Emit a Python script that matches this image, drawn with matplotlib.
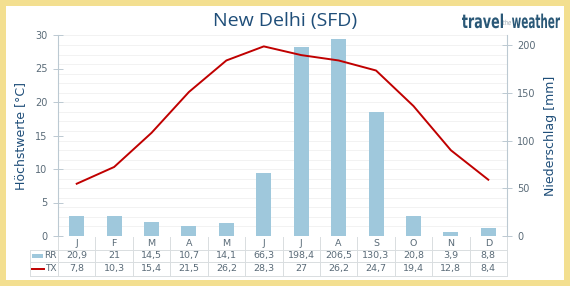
import matplotlib.pyplot as plt
import matplotlib.transforms as mtransforms
from matplotlib.patches import Rectangle, PathPatch
from matplotlib.lines import Line2D
from matplotlib.textpath import TextPath
from matplotlib.font_manager import FontProperties
import numpy as np

months = ['J', 'F', 'M', 'A', 'M', 'J', 'J', 'A', 'S', 'O', 'N', 'D']
rr = [20.9, 21, 14.5, 10.7, 14.1, 66.3, 198.4, 206.5, 130.3, 20.8, 3.9, 8.8]
tx = [7.8, 10.3, 15.4, 21.5, 26.2, 28.3, 27, 26.2, 24.7, 19.4, 12.8, 8.4]

W, H = 570, 286
navy = '#1f4e79'
tickc = '#5a6b78'
gridc = '#bcc9d2'
barc = '#9fc8dc'
redc = '#c00000'

fig = plt.figure(figsize=(W / 100, H / 100), dpi=100)
fig.patch.set_facecolor('#f3df90')
fig.add_artist(Rectangle((6 / W, 6 / H), 1 - 12 / W, 1 - 12 / H, transform=fig.transFigure,
                         facecolor='white', edgecolor='none', zorder=0))

# plot area in pixels
x0, x1, y0, y1 = 58, 507, 236, 35
ax2 = fig.add_axes([x0 / W, 1 - y0 / H, (x1 - x0) / W, (y0 - y1) / H])
ax = ax2.twinx()
ax2.yaxis.tick_right()
ax2.yaxis.set_label_position('right')
ax.yaxis.tick_left()
ax.yaxis.set_label_position('left')

x = np.arange(12)
ax2.bar(x, rr, width=0.4, color=barc, zorder=2)
ax2.set_ylim(0, 210.5)
ax2.set_yticks([0, 50, 100, 150, 200])
for g in range(10, 211, 10):
    ax2.axhline(g, color='#f0f0f0', lw=0.6, zorder=0)
ax2.set_xlim(-0.5, 11.5)
ax2.set_xticks([])

ax.plot(x, tx, color=redc, lw=1.4, zorder=3)
ax.set_ylim(0, 30)
ax.set_yticks([0, 5, 10, 15, 20, 25, 30])
ax.set_xlim(-0.5, 11.5)

for a in (ax, ax2):
    for s in a.spines.values():
        s.set_visible(False)
    a.tick_params(axis='y', colors=tickc, labelsize=7, length=7, width=0.7,
                  direction='inout', pad=4)
ax.spines['left'].set_visible(True)
ax.spines['left'].set_color(gridc)
ax2.spines['right'].set_visible(True)
ax2.spines['right'].set_color(gridc)
ax.tick_params(axis='y', colors=gridc, labelcolor=tickc)
ax2.tick_params(axis='y', colors=gridc, labelcolor=tickc)

ax.set_ylabel('Höchstwerte [°C]', color=navy, fontsize=9, labelpad=6)
ax2.set_ylabel('Niederschlag [mm]', color=navy, fontsize=9, labelpad=6)

# data table below the plot
tr = mtransforms.blended_transform_factory(ax2.transData, fig.transFigure)
def fy(py):
    return 1 - py / H

linec = '#d9dde0'
rows_y = {'hdr': 243, 'rr': 255.5, 'tx': 268.5}
for i in range(13):
    xb = i - 0.5
    fig.add_artist(Line2D([xb, xb], [fy(237), fy(276)], transform=tr, color=linec, lw=0.7))
for py in (249.5, 262, 275.5):
    fig.add_artist(Line2D([30 / W, x1 / W], [fy(py), fy(py)], transform=fig.transFigure, color=linec, lw=0.7))
fig.add_artist(Line2D([30 / W, 30 / W], [fy(249.5), fy(275.5)], transform=fig.transFigure, color=linec, lw=0.7))

fmt = lambda v: f'{v:g}'.replace('.', ',')
for i, m in enumerate(months):
    fig.text(i, fy(rows_y['hdr']), m, transform=tr, ha='center', va='center', fontsize=6.8, color=tickc)
    fig.text(i, fy(rows_y['rr']), fmt(rr[i]), transform=tr, ha='center', va='center', fontsize=6.8, color=tickc)
    fig.text(i, fy(rows_y['tx']), fmt(tx[i]), transform=tr, ha='center', va='center', fontsize=6.8, color=tickc)

fig.add_artist(Rectangle((32 / W, fy(257.5)), 11 / W, 4 / H, transform=fig.transFigure,
                         facecolor=barc, edgecolor='none'))
fig.text(56.5 / W, fy(rows_y['rr']), 'RR', ha='right', va='center', fontsize=6.5, color=tickc)
fig.add_artist(Line2D([32 / W, 44 / W], [fy(268.5), fy(268.5)], transform=fig.transFigure, color=redc, lw=1.4))
fig.text(56.5 / W, fy(rows_y['tx']), 'TX', ha='right', va='center', fontsize=6.5, color=tickc)

fig.text(285 / W, fy(21), 'New Delhi (SFD)', ha='center', va='center', fontsize=14, color=navy,
         family='Open Sans')

# logo, condensed by squeezing the glyph paths to a target width
def squeezed(s, px, py, size, width, color, weight='bold', style='normal'):
    tp = TextPath((0, 0), s, size=size,
                  prop=FontProperties(family='DejaVu Sans', weight=weight, style=style))
    ext = tp.get_extents()
    sx = width / ext.width
    t = (mtransforms.Affine2D().translate(-ext.x0, 0).scale(sx / W, 1 / H)
         .translate(px / W, 1 - py / H) + fig.transFigure)
    fig.add_artist(PathPatch(tp, transform=t, facecolor=color, edgecolor='none'))

squeezed('travel', 462, 28, 19, 41, '#2a5877')
squeezed('the', 503, 25, 7, 8, '#9aa8b2', weight='normal', style='italic')
squeezed('weather', 512, 28, 19, 48, '#2a5877')

fig.savefig('out.png', dpi=100, facecolor=fig.get_facecolor())
